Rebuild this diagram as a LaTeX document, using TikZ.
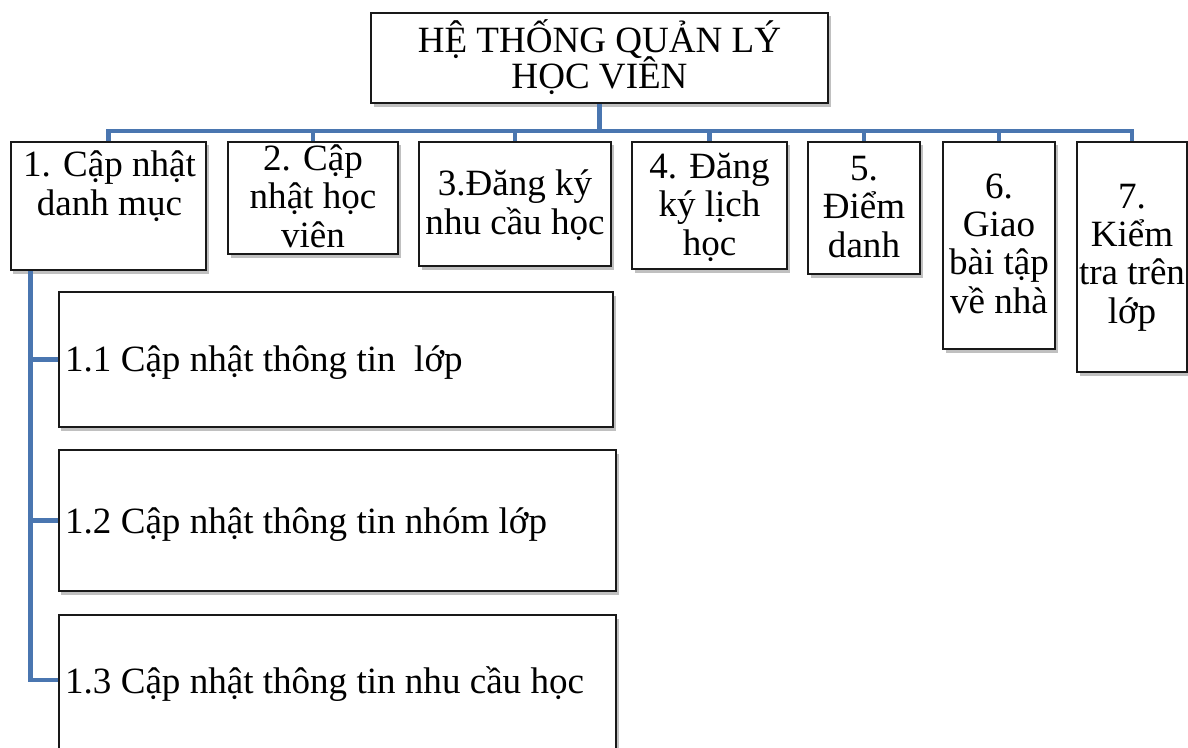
\documentclass[tikz,border=0pt]{standalone}
\usepackage{fontspec}
\setmainfont{Liberation Serif}
\usetikzlibrary{shadows,calc}
\definecolor{linkblue}{HTML}{4A76B0}
\begin{document}
\lineskiplimit=-100pt\relax
\begin{tikzpicture}[x=1bp,y=-1bp,
  box/.style={draw=black!90, line width=2.2bp, fill=white, inner sep=0pt,
    drop shadow={shadow xshift=2.5bp, shadow yshift=-3.5bp, opacity=0.45, fill=black!55}},
  txt/.style={font=\fontsize{37.2}{38.3}\selectfont, align=center, inner sep=0pt, anchor=base},
  ltxt/.style={font=\fontsize{37.2}{38.3}\selectfont, inner sep=0pt, anchor=base west},
  link/.style={draw=linkblue, line width=4.5bp}]
\useasboundingbox (0,0) rectangle (1188,748);
% boxes
\node[box, minimum width=457bp, minimum height=90bp] (root) at (599.5,58) {};
\node[box, minimum width=195bp, minimum height=128bp] (b1) at (108.5,206) {};
\node[box, minimum width=170bp, minimum height=112bp] (b2) at (313,198) {};
\node[box, minimum width=192bp, minimum height=124bp] (b3) at (515,204) {};
\node[box, minimum width=155bp, minimum height=127bp] (b4) at (709.5,205.5) {};
\node[box, minimum width=112bp, minimum height=132bp] (b5) at (864,208) {};
\node[box, minimum width=112bp, minimum height=207bp] (b6) at (999,245.5) {};
\node[box, minimum width=110bp, minimum height=230bp] (b7) at (1132,257) {};
\node[box, minimum width=554bp, minimum height=135bp] (c11) at (336,359.5) {};
\node[box, minimum width=557bp, minimum height=141bp] (c12) at (337.5,520.5) {};
\node[box, minimum width=557bp, minimum height=140bp] (c13) at (337.5,685) {};
% texts (anchored at the baseline of their last line)
\node[txt, font=\fontsize{37.2}{37}\selectfont] (troot) at (599.5,89) {HỆ THỐNG QUẢN LÝ\\HỌC VIÊN};
\node[txt] (t1) at (109.5,215) {1. Cập nhật\\danh mục};
\node[txt] (t2) at (313,247) {2. Cập\\nhật học\\viên};
\node[txt] (t3) at (515,234) {3.Đăng ký\\nhu cầu học};
\node[txt] (t4) at (709.5,255) {4. Đăng\\ký lịch\\học};
\node[txt] (t5) at (864,257) {5.\\Điểm\\danh};
\node[txt] (t6) at (999,313) {6.\\Giao\\bài tập\\về nhà};
\node[txt] (t7) at (1132,323) {7.\\Kiểm\\tra trên\\lớp};
\node[ltxt] (t11) at (65,371) {1.1 Cập nhật thông tin\ \ lớp};
\node[ltxt] (t12) at (65,533) {1.2 Cập nhật thông tin nhóm lớp};
\node[ltxt] (t13) at (65,693) {1.3 Cập nhật thông tin nhu cầu học};
% connectors
\foreach \b in {b1,b2,b3,b4,b5,b6,b7}
  \draw[link] (root.south) -- ++(0,27) -| (\b.north);
\draw[link] ($(b1.south west)+(20.5,0)$) |- (c11.west);
\draw[link] ($(b1.south west)+(20.5,0)$) |- (c12.west);
\draw[link] ($(b1.south west)+(20.5,0)$) |- ($(c13.north west)+(0,66)$);
\end{tikzpicture}
\end{document}
